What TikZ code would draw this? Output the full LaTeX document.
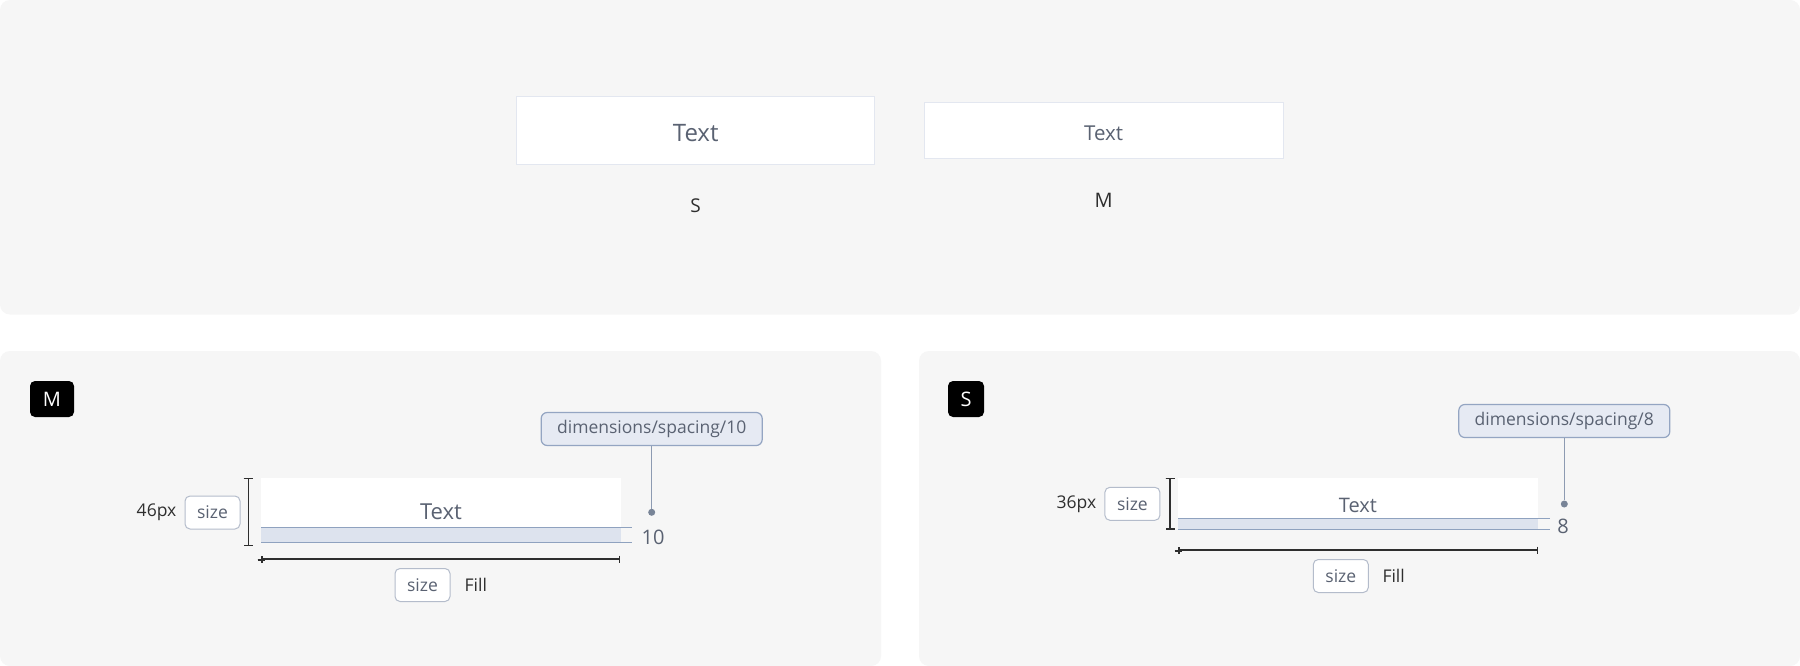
\documentclass[tikz,border=0pt]{standalone}
\usepackage{fontspec}
\setmainfont{Open Sans}
\usetikzlibrary{positioning,arrows.meta}
\definecolor{panelbg}{HTML}{F6F6F6}
\definecolor{slate}{HTML}{5A6272}
\definecolor{ink}{HTML}{2E2E2E}
\definecolor{fieldline}{HTML}{E3E7F0}
\definecolor{bandfill}{HTML}{DDE3EE}
\definecolor{bandline}{HTML}{8FA2BF}
\definecolor{tagfill}{HTML}{E6EAF3}
\definecolor{tagline}{HTML}{94A5C2}
\definecolor{chipline}{HTML}{B4BCCB}
\definecolor{leadcol}{HTML}{8D9BB2}
\begin{document}
\begin{tikzpicture}[x=1pt,y=-1pt]
      \tikzset{panel/.style={fill=panelbg, rounded corners=10pt},
        preview/.style={draw=fieldline, line width=1pt, fill=white, inner sep=0pt},
        badge/.style={fill=black, rounded corners=5pt, text=white, inner sep=0pt, minimum height=36pt, font=\fontsize{20}{24}\selectfont},
        chip/.style={draw=chipline, line width=1pt, fill=white, rounded corners=5pt, text=slate, inner sep=0pt, minimum width=55pt, minimum height=33pt, font=\fontsize{17.5}{20}\selectfont},
        token/.style={draw=tagline, line width=1.2pt, fill=tagfill, rounded corners=6pt, text=slate, inner sep=0pt, minimum height=33pt, font=\fontsize{17.5}{20}\selectfont},
        plain/.style={inner sep=0pt, text=ink, font=\fontsize{17.5}{20}\selectfont},
        measure/.style={draw=ink, line width=1.6pt, {Bar[width=9pt,line width=1.6pt]}-{Bar[width=9pt,line width=1.6pt]}},
        leader/.style={draw=leadcol, line width=1.5pt},
        leadhead/.style={circle, fill=leadcol!85!black, inner sep=0pt, minimum size=7pt}}
%% Panels
      \fill[white] (0,0) rectangle (1800,666);
      \useasboundingbox (0,0) rectangle (1800,666);
      \fill[panel] (0,0) rectangle (1800,314.5);
      \fill[panel] (0,351) rectangle (881,666);
      \fill[panel] (919,351) rectangle (1800,666);
%% Top: the two sizes side by side
      \node[preview, minimum width=358pt, minimum height=68pt] (prevS) at (695.7,130.3) {};
      \node[preview, minimum width=359pt, minimum height=56pt] (prevM) at (1103.7,130.3) {};
      \node[inner sep=0pt, text=slate, font=\fontsize{24}{28}\selectfont] (textS) at (695.7,133.5) {Text};
      \node[inner sep=0pt, text=slate, font=\fontsize{20.5}{24}\selectfont] (textM) at (1103.7,133) {Text};
      \node[inner sep=0pt, text=ink, font=\fontsize{19}{22}\selectfont] (nameS) at (695.7,206) {S};
      \node[inner sep=0pt, text=ink, font=\fontsize{20}{24}\selectfont] (nameM) at (1103.7,200) {M};
%% Bottom left: size M
      \node[badge, minimum width=44pt] (badgeM) at (52,399) {M};
      \fill[white] (261,477.7) rectangle (621,527.3);
      \fill[bandfill] (261,527.3) rectangle (621,542.5);
      \coordinate (bandMtl) at (261,527.3);
      \coordinate (bandMtr) at (632,527.3);
      \coordinate (bandMbl) at (261,542.5);
      \coordinate (bandMbr) at (632,542.5);
      \draw[bandline, line width=1pt] (bandMtl) -- (bandMtr) (bandMbl) -- (bandMbr);
      \node[inner sep=0pt, text=slate, font=\fontsize{22}{26}\selectfont] (fieldM) at (441,512) {Text};
      \node[chip] (hchipM) at (212.5,512.5) {size};
      \node[plain, left=8pt of hchipM] (hvalM) {46px};
      \coordinate (vtopM) at (248.3,477.7);
      \coordinate (vbotM) at (248.3,546.3);
      \path[measure] (vtopM) edge (vbotM);
      \coordinate (wleftM) at (261,559);
      \coordinate (wrightM) at (620,559);
      \path[measure, {Bar[width=7pt,line width=1.5pt]}-{Bar[width=7pt,line width=1.5pt]}] (wleftM) edge (wrightM);
      \node[chip] (wchipM) at (422.5,585) {size};
      \node[plain, right=14pt of wchipM] (wvalM) {Fill};
      \node[token, minimum width=221pt] (tokenM) at (651.7,429) {dimensions/spacing/10};
      \node[leadhead] (dotM) at (651.7,512.3) {};
      \path[leader] (tokenM) edge (dotM);
      \node[inner sep=0pt, text=slate, font=\fontsize{20}{24}\selectfont] (gapM) at (653,537) {10};
%% Bottom right: size S
      \node[badge, minimum width=36pt] (badgeS) at (966,399) {S};
      \fill[white] (1178.3,477.7) rectangle (1538.3,518.7);
      \fill[bandfill] (1178.3,518.7) rectangle (1538.3,529.3);
      \coordinate (bandStl) at (1178.3,518.7);
      \coordinate (bandStr) at (1550,518.7);
      \coordinate (bandSbl) at (1178.3,529.3);
      \coordinate (bandSbr) at (1550,529.3);
      \draw[bandline, line width=1pt] (bandStl) -- (bandStr) (bandSbl) -- (bandSbr);
      \node[inner sep=0pt, text=slate, font=\fontsize{20}{24}\selectfont] (fieldS) at (1358,505.5) {Text};
      \node[chip] (hchipS) at (1132.4,503.8) {size};
      \node[plain, left=8pt of hchipS] (hvalS) {36px};
      \coordinate (vtopS) at (1170,477.7);
      \coordinate (vbotS) at (1170,530);
      \path[measure] (vtopS) edge (vbotS);
      \coordinate (wleftS) at (1178.3,550);
      \coordinate (wrightS) at (1538,550);
      \path[measure, {Bar[width=7pt,line width=1.5pt]}-{Bar[width=7pt,line width=1.5pt]}] (wleftS) edge (wrightS);
      \node[chip] (wchipS) at (1340.8,576) {size};
      \node[plain, right=13.5pt of wchipS] (wvalS) {Fill};
      \node[token, minimum width=211pt] (tokenS) at (1564.3,421) {dimensions/spacing/8};
      \node[leadhead] (dotS) at (1564.3,504) {};
      \path[leader] (tokenS) edge (dotS);
      \node[inner sep=0pt, text=slate, font=\fontsize{20}{24}\selectfont] (gapS) at (1563,526) {8};
\end{tikzpicture}
\end{document}
